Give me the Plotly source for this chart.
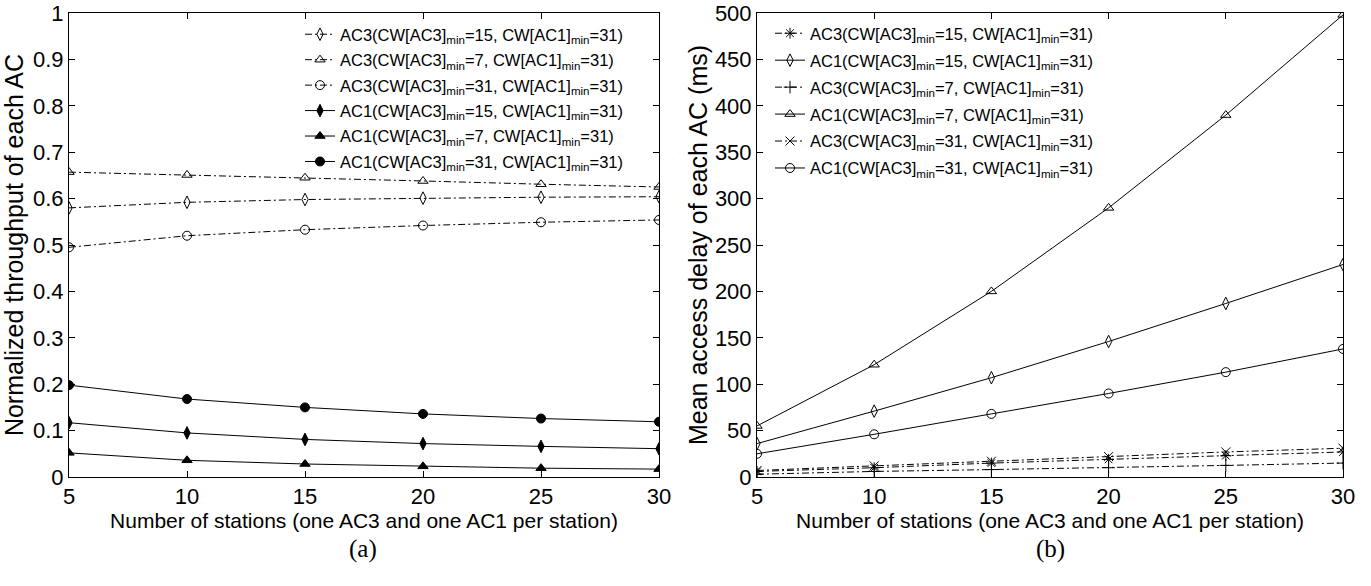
import plotly.graph_objects as go

# Number of stations (one AC3 and one AC1 per station)
stations = [5, 10, 15, 20, 25, 30]

# (a) Normalized throughput of each AC
thr_ac3_cw15 = [0.580, 0.592, 0.598, 0.601, 0.603, 0.604]
thr_ac3_cw7 = [0.657, 0.651, 0.645, 0.638, 0.631, 0.625]
thr_ac3_cw31 = [0.495, 0.520, 0.533, 0.542, 0.549, 0.554]
thr_ac1_cw15 = [0.117, 0.095, 0.081, 0.072, 0.066, 0.061]
thr_ac1_cw7 = [0.052, 0.036, 0.028, 0.023, 0.019, 0.017]
thr_ac1_cw31 = [0.198, 0.168, 0.150, 0.136, 0.126, 0.119]

# (b) Mean access delay of each AC (ms)
dly_ac3_cw15 = [6, 10, 15, 19, 23, 27]
dly_ac1_cw15 = [36, 71, 107, 146, 187, 229]
dly_ac3_cw7 = [3, 6, 8, 10, 12.5, 15]
dly_ac1_cw7 = [55, 121, 200, 290, 390, 498]
dly_ac3_cw31 = [7, 12, 17, 22, 27, 31]
dly_ac1_cw31 = [25, 46, 68, 90, 113, 138]

x_ticks = [5, 10, 15, 20, 25, 30]
thr_ticks = [0, 0.1, 0.2, 0.3, 0.4, 0.5, 0.6, 0.7, 0.8, 0.9, 1]
thr_tick_text = ["0", "0.1", "0.2", "0.3", "0.4", "0.5", "0.6", "0.7", "0.8", "0.9", "1"]
dly_ticks = [0, 50, 100, 150, 200, 250, 300, 350, 400, 450, 500]


def label(ac, cw3):
    return f"{ac}(CW[AC3]<sub>min</sub>={cw3}, CW[AC1]<sub>min</sub>=31)"


DASHDOT = "7px,3px,2px,3px"
FONT = "Liberation Sans, Arial, sans-serif"

fig = go.Figure()

left_series = [
    (thr_ac3_cw15, label("AC3", 15), "diamond-tall-open", DASHDOT),
    (thr_ac3_cw7, label("AC3", 7), "triangle-up-open", DASHDOT),
    (thr_ac3_cw31, label("AC3", 31), "circle-open", DASHDOT),
    (thr_ac1_cw15, label("AC1", 15), "diamond-tall", "solid"),
    (thr_ac1_cw7, label("AC1", 7), "triangle-up", "solid"),
    (thr_ac1_cw31, label("AC1", 31), "circle", "solid"),
]
for i, (ys, name, sym, dash) in enumerate(left_series):
    fig.add_trace(go.Scatter(
        x=stations, y=ys, name=name, mode="lines+markers",
        line=dict(color="black", width=1, dash=dash),
        marker=dict(symbol=sym, size=9, color="black", line=dict(color="black", width=1)),
        xaxis="x", yaxis="y", legend="legend", legendgroup=f"a{i}",
    ))

right_series = [
    (dly_ac3_cw15, label("AC3", 15), "asterisk-open", DASHDOT),
    (dly_ac1_cw15, label("AC1", 15), "diamond-tall-open", "solid"),
    (dly_ac3_cw7, label("AC3", 7), "cross-thin-open", DASHDOT),
    (dly_ac1_cw7, label("AC1", 7), "triangle-up-open", "solid"),
    (dly_ac3_cw31, label("AC3", 31), "x-thin-open", DASHDOT),
    (dly_ac1_cw31, label("AC1", 31), "circle-open", "solid"),
]
for i, (ys, name, sym, dash) in enumerate(right_series):
    fig.add_trace(go.Scatter(
        x=stations, y=ys, name=name, mode="lines+markers",
        line=dict(color="black", width=1, dash=dash),
        marker=dict(symbol=sym, size=9, color="black", line=dict(color="black", width=1)),
        xaxis="x2", yaxis="y2", legend="legend2", legendgroup=f"b{i}",
    ))

W, H = 1371, 586
axis_common = dict(
    showline=True, linecolor="black", linewidth=1, mirror="ticks", automargin=False,
    ticks="inside", ticklen=6, tickcolor="black", showgrid=False, zeroline=False,
    tickfont=dict(family=FONT, size=22, color="black"),
)
ydom = [(H - 477) / H, (H - 13) / H]
xtitle = dict(text="Number of stations (one AC3 and one AC1 per station)",
              font=dict(family=FONT, size=21), standoff=4)

fig.update_layout(
    template="none",
    width=W, height=H,
    margin=dict(l=0, r=0, t=0, b=0, autoexpand=False),
    paper_bgcolor="white", plot_bgcolor="white",
    font=dict(family=FONT, size=17, color="black"),
    xaxis=dict(domain=[69 / W, 659 / W], range=[5, 30], tickvals=x_ticks, anchor="y",
               title=xtitle, **axis_common),
    yaxis=dict(domain=ydom, range=[0, 1], tickvals=thr_ticks, ticktext=thr_tick_text, anchor="x",
               title=dict(text="Normalized throughput of each AC",
                          font=dict(family=FONT, size=25), standoff=2),
               **axis_common),
    xaxis2=dict(domain=[757 / W, 1343 / W], range=[5, 30], tickvals=x_ticks, anchor="y2",
                title=xtitle, **axis_common),
    yaxis2=dict(domain=ydom, range=[0, 500], tickvals=dly_ticks, anchor="x2",
                title=dict(text="Mean access delay of each AC (ms)",
                           font=dict(family=FONT, size=25), standoff=0),
                **axis_common),
    legend=dict(x=300 / W, y=(H - 17) / H, xanchor="left", yanchor="top",
                bgcolor="rgba(0,0,0,0)", borderwidth=0, tracegroupgap=1,
                font=dict(family=FONT, size=16.5, color="black")),
    legend2=dict(x=770 / W, y=(H - 16) / H, xanchor="left", yanchor="top",
                 bgcolor="rgba(0,0,0,0)", borderwidth=0, tracegroupgap=2.5,
                 font=dict(family=FONT, size=16.5, color="black")),
    showlegend=True,
)

for txt, xc in [("(a)", 363), ("(b)", 1050)]:
    fig.add_annotation(text=txt, x=xc / W, y=(H - 549) / H, xref="paper", yref="paper",
                       showarrow=False, xanchor="center", yanchor="middle",
                       font=dict(family="Liberation Serif, Times New Roman, serif", size=25, color="black"))

fig.write_html("out.html")
